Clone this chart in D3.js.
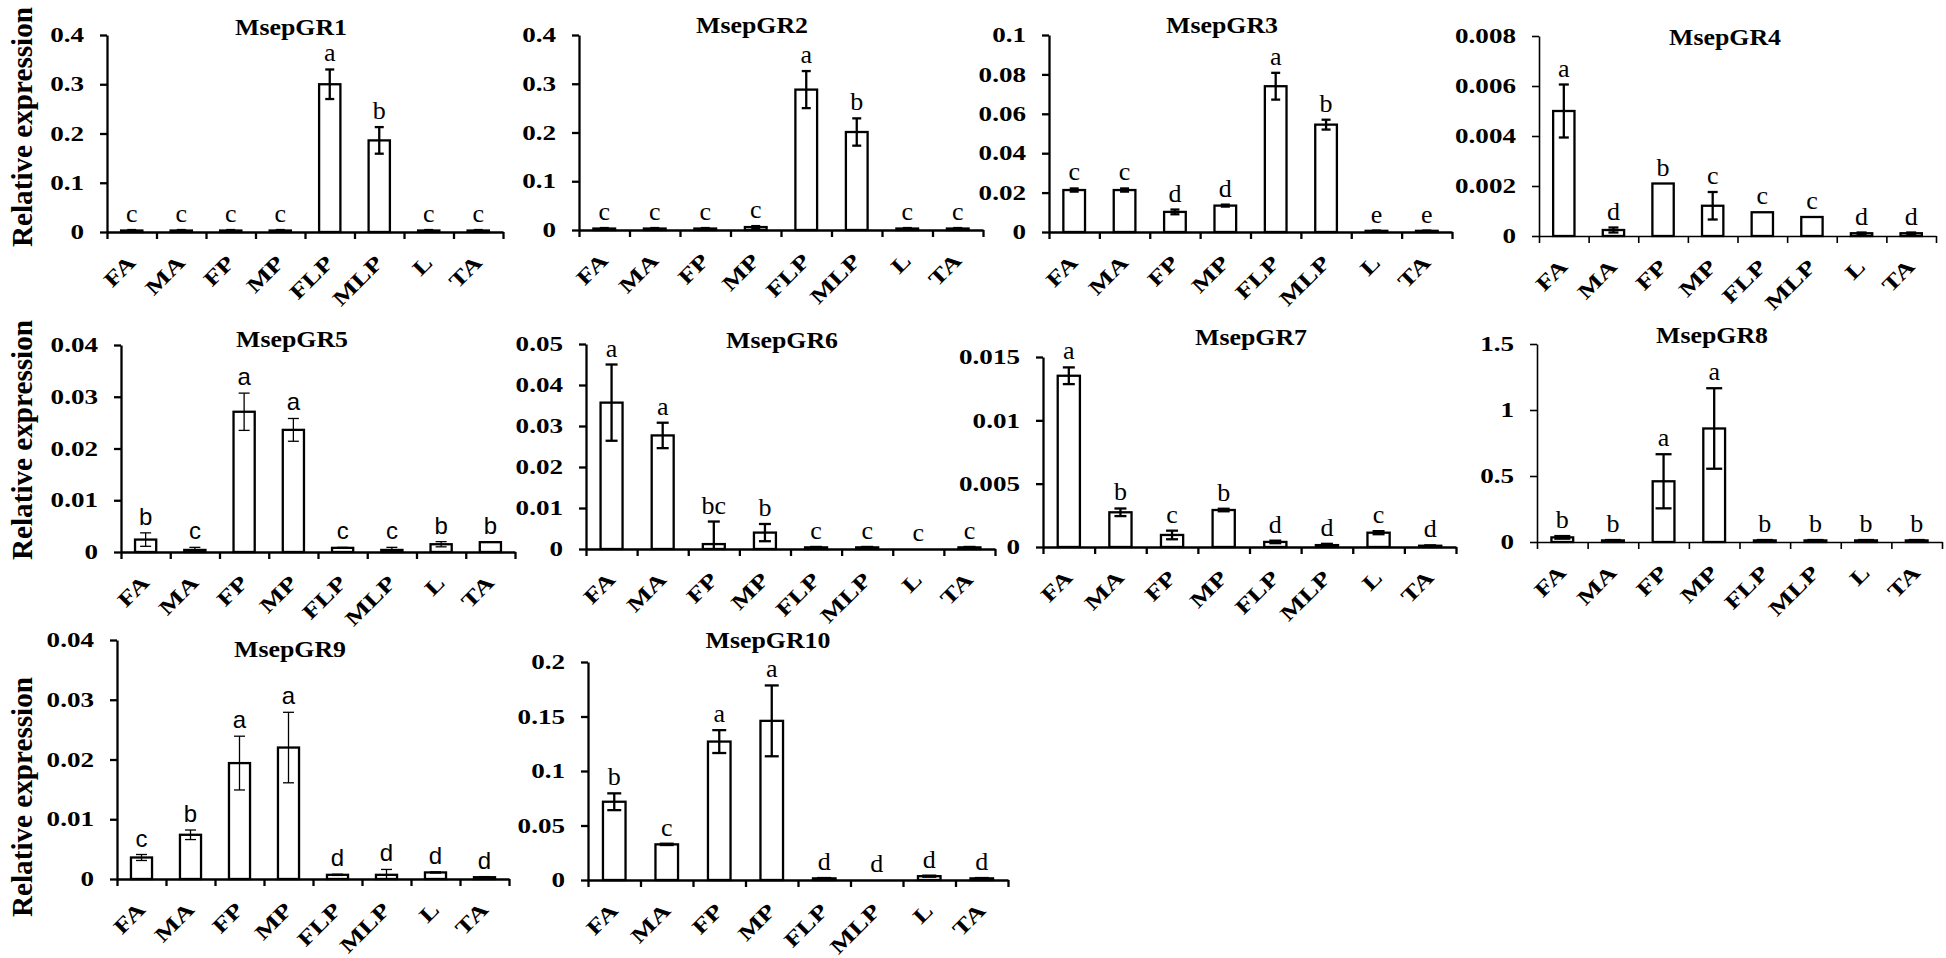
<!DOCTYPE html>
<html>
<head>
<meta charset="utf-8">
<script src="https://cdn.jsdelivr.net/npm/d3@7"></script>
<style>
  body { margin: 0; background: #fff; }
  svg { display: block; }
</style>
</head>
<body>
<svg id="chart" width="1946" height="958"></svg>
<script>
// tissues on the x axis
const tissues = ['FA', 'MA', 'FP', 'MP', 'FLP', 'MLP', 'L', 'TA']

// values (mean, error, significance letter)
const meanGR1 = [0.003, 0.003, 0.003, 0.003, 0.300, 0.186, 0.003, 0.003]
const errGR1 = [0.001, 0.001, 0.001, 0.001, 0.030, 0.027, 0.001, 0.001]
const sigGR1 = ['c', 'c', 'c', 'c', 'a', 'b', 'c', 'c']
const ticksGR1 = ['0', '0.1', '0.2', '0.3', '0.4']

const meanGR2 = [0.003, 0.003, 0.003, 0.006, 0.288, 0.201, 0.003, 0.003]
const errGR2 = [0.001, 0.001, 0.001, 0.002, 0.038, 0.028, 0.001, 0.001]
const sigGR2 = ['c', 'c', 'c', 'c', 'a', 'b', 'c', 'c']
const ticksGR2 = ['0', '0.1', '0.2', '0.3', '0.4']

const meanGR3 = [0.0213, 0.0213, 0.0102, 0.0134, 0.0740, 0.0545, 0.0006, 0.0006]
const errGR3 = [0.0008, 0.0008, 0.0012, 0.0005, 0.0068, 0.0025, 0.0001, 0.0001]
const sigGR3 = ['c', 'c', 'd', 'd', 'a', 'b', 'e', 'e']
const ticksGR3 = ['0', '0.02', '0.04', '0.06', '0.08', '0.1']

const meanGR4 = [0.0050, 0.00024, 0.0021, 0.00121, 0.00095, 0.00076, 0.00011, 0.00011]
const errGR4 = [0.00106, 0.0001, 0, 0.00055, 0, 0, 0.00003, 0.00003]
const sigGR4 = ['a', 'd', 'b', 'c', 'c', 'c', 'd', 'd']
const ticksGR4 = ['0', '0.002', '0.004', '0.006', '0.008']

const meanGR5 = [0.0024, 0.0004, 0.0271, 0.0236, 0.0008, 0.0004, 0.0015, 0.0019]
const errGR5 = [0.0013, 0.0005, 0.0036, 0.0022, 0.0001, 0.0005, 0.0005, 0]
const sigGR5 = ['b', 'c', 'a', 'a', 'c', 'c', 'b', 'b']
const ticksGR5 = ['0', '0.01', '0.02', '0.03', '0.04']

const meanGR6 = [0.0357, 0.0277, 0.0012, 0.0040, 0.0004, 0.0004, 0, 0.0004]
const errGR6 = [0.0093, 0.0031, 0.0055, 0.0021, 0.0001, 0.0001, 0, 0.0001]
const sigGR6 = ['a', 'a', 'bc', 'b', 'c', 'c', 'c', 'c']
const ticksGR6 = ['0', '0.01', '0.02', '0.03', '0.04', '0.05']

const meanGR7 = [0.01352, 0.00274, 0.00095, 0.00292, 0.0004, 0.00015, 0.00113, 0.0001]
const errGR7 = [0.00066, 0.0003, 0.00034, 0.0001, 0.0001, 0.0001, 0.00012, 0.00003]
const sigGR7 = ['a', 'b', 'c', 'b', 'd', 'd', 'c', 'd']
const ticksGR7 = ['0', '0.005', '0.01', '0.015']

const meanGR8 = [0.035, 0.012, 0.46, 0.86, 0.012, 0.012, 0.012, 0.012]
const errGR8 = [0.01, 0.003, 0.205, 0.305, 0.003, 0.003, 0.003, 0.003]
const sigGR8 = ['b', 'b', 'a', 'a', 'b', 'b', 'b', 'b']
const ticksGR8 = ['0', '0.5', '1', '1.5']

const meanGR9 = [0.0036, 0.0074, 0.0194, 0.0220, 0.0007, 0.0007, 0.0011, 0.0003]
const errGR9 = [0.0005, 0.0008, 0.0045, 0.0059, 0.0001, 0.0009, 0.0001, 0.0001]
const sigGR9 = ['c', 'b', 'a', 'a', 'd', 'd', 'd', 'd']
const ticksGR9 = ['0', '0.01', '0.02', '0.03', '0.04']

const meanGR10 = [0.0718, 0.0327, 0.1270, 0.1460, 0.0015, 0, 0.0035, 0.0015]
const errGR10 = [0.0077, 0.0006, 0.0105, 0.0325, 0.0003, 0, 0.0005, 0.0003]
const sigGR10 = ['b', 'c', 'a', 'a', 'd', 'd', 'd', 'd']
const ticksGR10 = ['0', '0.05', '0.1', '0.15', '0.2']

// panel layout: [x0, x1, yTop, yZero], title position, cap width
const panels = [
  { gene: 'MsepGR1', mean: meanGR1, err: errGR1, sig: sigGR1, ticks: ticksGR1, box: [107, 503, 35, 232], title: [291, 35], cap: 9 },
  { gene: 'MsepGR2', mean: meanGR2, err: errGR2, sig: sigGR2, ticks: ticksGR2, box: [579, 983, 35, 230], title: [752, 33], cap: 9 },
  { gene: 'MsepGR3', mean: meanGR3, err: errGR3, sig: sigGR3, ticks: ticksGR3, box: [1049, 1452, 35, 232], title: [1222, 33], cap: 9 },
  { gene: 'MsepGR4', mean: meanGR4, err: errGR4, sig: sigGR4, ticks: ticksGR4, box: [1539, 1936, 36, 236], title: [1725, 45], cap: 10, thin: true },
  { gene: 'MsepGR5', mean: meanGR5, err: errGR5, sig: sigGR5, ticks: ticksGR5, box: [121, 515, 345, 552], title: [292, 347], cap: 11, sans: true },
  { gene: 'MsepGR6', mean: meanGR6, err: errGR6, sig: sigGR6, ticks: ticksGR6, box: [586, 995, 344, 549], title: [782, 348], cap: 12 },
  { gene: 'MsepGR7', mean: meanGR7, err: errGR7, sig: sigGR7, ticks: ticksGR7, box: [1043, 1456, 357, 547], title: [1251, 345], cap: 12 },
  { gene: 'MsepGR8', mean: meanGR8, err: errGR8, sig: sigGR8, ticks: ticksGR8, box: [1537, 1942, 344, 542], title: [1712, 343], cap: 16, thin: true },
  { gene: 'MsepGR9', mean: meanGR9, err: errGR9, sig: sigGR9, ticks: ticksGR9, box: [117, 509, 640, 879], title: [290, 657], cap: 11, sans: true },
  { gene: 'MsepGR10', mean: meanGR10, err: errGR10, sig: sigGR10, ticks: ticksGR10, box: [588, 1008, 662, 880], title: [768, 648], cap: 14 }
]

const serif = '"Liberation Serif", "Times New Roman", serif'
const sans = '"Liberation Sans", Arial, sans-serif'
const svg = d3.select('#chart')

// the figure's lettering is spread wider than plain Times: measure a sample and stretch to fit
function natWidth (str, size) {
  const t = svg.append('text')
    .attr('font-family', serif).attr('font-weight', 'bold').attr('font-size', size)
    .text(str)
  const w = t.node().getComputedTextLength()
  t.remove()
  return w
}
const sxTick = 61 / natWidth('0.008', 21)
const sxTitle = 112 / natWidth('MsepGR1', 23)
const sxYLab = 240 / natWidth('Relative expression', 30)
const sxXLab = 46 / natWidth('MA', 21)

// y axis titles, one per row
const rowCenters = [127, 440, 797]
rowCenters.forEach(cy => {
  svg.append('text')
    .attr('transform', `translate(32,${cy}) rotate(-90) scale(${sxYLab},1)`)
    .attr('text-anchor', 'middle')
    .attr('font-family', serif)
    .attr('font-weight', 'bold')
    .attr('font-size', 30)
    .text('Relative expression')
})

panels.forEach(p => {
  const [x0, x1, yTop, yZero] = p.box
  const maxTick = d3.max(p.ticks, t => +t)
  const y = d3.scaleLinear().domain([0, maxTick]).range([yZero, yTop])
  const x = d3.scaleBand().domain(tissues).range([x0, x1])
    .paddingInner(0.57).paddingOuter(0.285)
  const xb = d3.scaleLinear().domain([0, tissues.length]).range([x0, x1])
  const lw = p.thin ? 1.6 : 2.3
  const ew = p.sans ? 1.3 : 2.3

  const g = svg.append('g').attr('class', 'panel')
  const data = tissues.map((t, i) => ({ t, m: p.mean[i], e: p.err[i], s: p.sig[i] }))

  // bars
  g.selectAll('.bar').data(data).enter().append('rect')
    .attr('class', 'bar')
    .attr('x', d => x(d.t))
    .attr('width', x.bandwidth())
    .attr('y', d => y(d.m))
    .attr('height', d => yZero - y(d.m))
    .attr('fill', '#fff')
    .attr('stroke', '#000')
    .attr('stroke-width', 2.3)

  // error bars
  const eb = g.selectAll('.err').data(data.filter(d => d.e > 0)).enter().append('g')
    .attr('class', 'err')
    .attr('stroke', '#000')
    .attr('stroke-width', ew)
  const cx = d => x(d.t) + x.bandwidth() / 2
  eb.append('line')
    .attr('x1', cx).attr('x2', cx)
    .attr('y1', d => y(d.m + d.e))
    .attr('y2', d => y(Math.max(0, d.m - d.e)))
  eb.append('line')
    .attr('x1', d => cx(d) - p.cap / 2).attr('x2', d => cx(d) + p.cap / 2)
    .attr('y1', d => y(d.m + d.e)).attr('y2', d => y(d.m + d.e))
  eb.filter(d => d.m - d.e > 0).append('line')
    .attr('x1', d => cx(d) - p.cap / 2).attr('x2', d => cx(d) + p.cap / 2)
    .attr('y1', d => y(d.m - d.e)).attr('y2', d => y(d.m - d.e))

  // significance letters
  g.selectAll('.sig').data(data).enter().append('text')
    .attr('class', 'sig')
    .attr('x', cx)
    .attr('y', d => y(d.m + d.e) - 8)
    .attr('text-anchor', 'middle')
    .attr('font-family', p.sans ? sans : serif)
    .attr('font-size', p.sans ? 24 : 26)
    .text(d => d.s)

  // x axis with ticks between categories
  const xAxis = g.append('g')
    .attr('transform', `translate(0,${yZero})`)
    .call(d3.axisBottom(xb).tickValues(d3.range(tissues.length + 1)).tickFormat('').tickSize(7).tickSizeOuter(0))
  xAxis.selectAll('path, line').attr('stroke', '#000').attr('stroke-width', lw)

  // rotated category labels
  g.selectAll('.xl').data(tissues).enter().append('text')
    .attr('class', 'xl')
    .attr('transform', t => `translate(${x(t) + x.bandwidth() / 2 + 5},${yZero + 32}) rotate(-45) scale(${sxXLab},1)`)
    .attr('text-anchor', 'end')
    .attr('font-family', serif)
    .attr('font-weight', 'bold')
    .attr('font-size', 21)
    .text(t => t)

  // y axis
  const yAxis = g.append('g')
    .attr('transform', `translate(${x0},0)`)
    .call(d3.axisLeft(y).tickValues(p.ticks.map(Number)).tickFormat((d, i) => p.ticks[i])
      .tickSize(7).tickSizeOuter(0))
  yAxis.selectAll('path, line').attr('stroke', '#000').attr('stroke-width', lw)
  yAxis.selectAll('text')
    .attr('x', -23 / sxTick)
    .attr('transform', `scale(${sxTick},1)`)
    .attr('font-family', serif)
    .attr('font-weight', 'bold')
    .attr('font-size', 21)
    .attr('fill', '#000')

  // panel title
  g.append('text')
    .attr('transform', `translate(${p.title[0]},${p.title[1]}) scale(${sxTitle},1)`)
    .attr('text-anchor', 'middle')
    .attr('font-family', serif)
    .attr('font-weight', 'bold')
    .attr('font-size', 23)
    .text(p.gene)
})
</script>
</body>
</html>
